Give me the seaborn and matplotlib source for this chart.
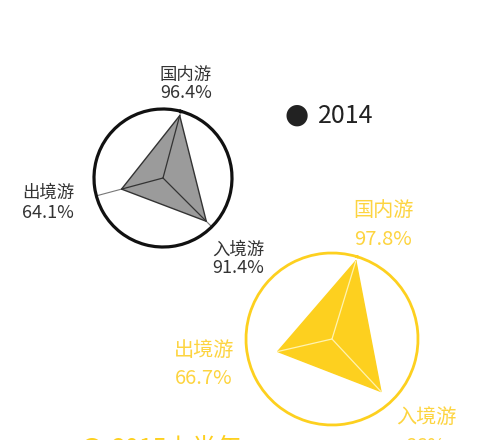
import numpy as np
import matplotlib
matplotlib.use("Agg")
import matplotlib.pyplot as plt
import seaborn as sns

sns.set_theme(style="white")
plt.rcParams['font.family'] = ['Noto Sans CJK SC', 'DejaVu Sans']

categories = ["国内游", "出境游", "入境游"]
values_2014 = [96.4, 64.1, 91.4]
values_2015 = [97.8, 66.7, 86.0]
labels_2014 = ["96.4%", "64.1%", "91.4%"]
labels_2015 = ["97.8%", "66.7%", "86%"]
series_names = ["2014", "2015上半年"]

BLACK = "#111111"
GRAY_FILL = "#9b9b9b"
YELLOW = "#FDD01F"
YELLOW_TXT = "#FDD440"

W, H = 499, 440
fig = plt.figure(figsize=(W / 100, H / 100), dpi=100)
fig.patch.set_facecolor("white")

def radar(cx, cy, r, vals, ring_color, ring_lw, fill, edge, spoke_in, spoke_out, offset_deg):
    ax = fig.add_axes([(cx - r) / W, (H - cy - r) / H, 2 * r / W, 2 * r / H],
                      projection="polar")
    ax.set_theta_offset(np.deg2rad(offset_deg))
    ax.set_theta_direction(1)
    ax.set_ylim(0, 103)
    ax.set_xticks([])
    ax.set_yticks([])
    ax.grid(False)
    ax.set_facecolor("none")
    ax.spines["polar"].set_color(ring_color)
    ax.spines["polar"].set_linewidth(ring_lw)
    n = len(vals)
    theta = np.arange(n) * 2 * np.pi / n
    for t in theta:
        ax.plot([t, t], [0, 103], color=spoke_out, lw=0.8, zorder=1)
    tt = np.append(theta, theta[0])
    vv = np.append(vals, vals[0])
    ax.fill(tt, vv, color=fill, zorder=2, lw=0)
    ax.plot(tt, vv, color=edge, lw=1.0, zorder=3)
    for t, v in zip(theta, vals):
        ax.plot([t, t], [0, v], color=spoke_in, lw=0.9, zorder=4)
    return ax

radar(163, 178, 69, values_2014, BLACK, 2.3, GRAY_FILL, "#333333", "#333333", "#777777", 75)
radar(332, 339, 86, values_2015, YELLOW, 2.0, YELLOW, YELLOW, "#FFF3B0", "white", 73)

def ftxt(x, y, s, color, size, **kw):
    fig.text(x / W, 1 - y / H, s, color=color, fontsize=size, ha="center", va="center",
             fontweight="light", **kw)

# 2014 labels
ftxt(186, 75, categories[0], "#333333", 12.5)
ftxt(186, 93, labels_2014[0], "#333333", 13)
ftxt(48, 193, categories[1], "#333333", 12.5)
ftxt(48, 213, labels_2014[1], "#333333", 13)
ftxt(238, 250, categories[2], "#333333", 12.5)
ftxt(238, 268, labels_2014[2], "#333333", 13)

# 2015 labels
ftxt(383, 211, categories[0], YELLOW_TXT, 14.5)
ftxt(383, 239, labels_2015[0], YELLOW_TXT, 14.5)
ftxt(204, 350, categories[1], YELLOW_TXT, 14.5)
ftxt(204, 378, labels_2015[1], YELLOW_TXT, 14.5)
ftxt(426, 417, categories[2], YELLOW_TXT, 14.5)
ftxt(426, 446, labels_2015[2], YELLOW_TXT, 14.5)

# legends
fig.text(297 / W, 1 - 115 / H, "●", color="#222222", fontsize=20, ha="center", va="center",
         family="DejaVu Sans")
fig.text(318 / W, 1 - 116 / H, series_names[0], color="#222222", fontsize=18, ha="left",
         va="center", fontweight="light")
fig.text(92 / W, 1 - 448 / H, "●", color=YELLOW, fontsize=20, ha="center", va="center",
         family="DejaVu Sans")
fig.text(112 / W, 1 - 449 / H, series_names[1], color=YELLOW, fontsize=18, ha="left",
         va="center", fontweight="light")

fig.savefig("out.png", dpi=100, facecolor="white")
